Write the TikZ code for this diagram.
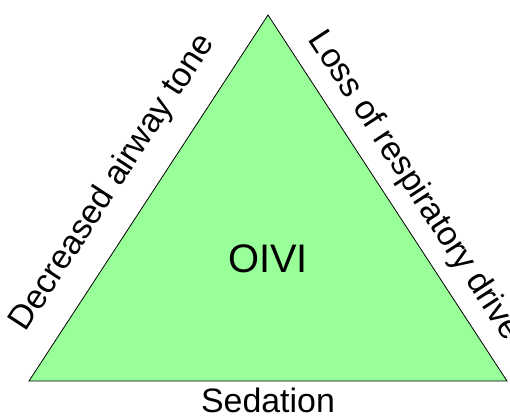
\documentclass[tikz,border=0pt]{standalone}
\usepackage{fontspec}
\setmainfont{Liberation Sans}
\definecolor{triGreen}{RGB}{153,255,153}
\begin{document}
\begin{tikzpicture}[x=1bp,y=1bp,
  sidelabel/.style={inner sep=0pt, font=\fontsize{34}{40}\selectfont},
  corelabel/.style={inner sep=0pt, font=\fontsize{40}{46}\selectfont}]
  \useasboundingbox (0,0) rectangle (510,415);
  % the triangle
  \coordinate (top) at (268,400);
  \coordinate (bl) at (29,34);
  \coordinate (br) at (507,34);
  \draw[fill=triGreen, line width=0.8bp, line join=miter] (top) -- (bl) -- (br) -- cycle;
  % labels
  \node[corelabel, anchor=base] (core) at (268,143) {OIVI};
  \node[sidelabel, rotate=56.9] (left) at (113,232) {Decreased airway tone};
  \node[sidelabel, rotate=-56.9] (right) at (414,229) {Loss of respiratory drive};
  \node[sidelabel, anchor=base] (bottom) at (268,3) {Sedation};
\end{tikzpicture}
\end{document}
